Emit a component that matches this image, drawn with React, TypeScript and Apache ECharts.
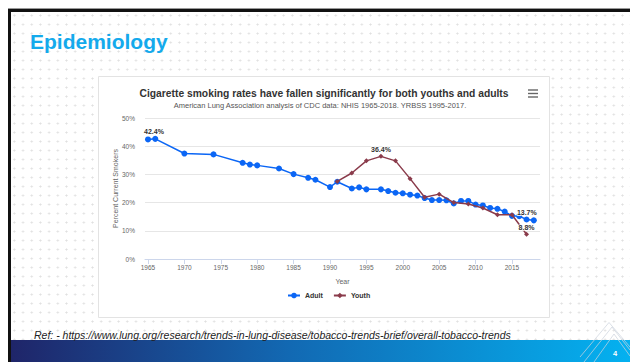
import React, { useEffect, useRef } from 'react';
import * as echarts from 'echarts';

const chartTitle = 'Cigarette smoking rates have fallen significantly for both youths and adults';
const chartSubtitle = 'American Lung Association analysis of CDC data: NHIS 1965-2018. YRBSS 1995-2017.';
const slideTitle = 'Epidemiology';
const refText = 'Ref: - https://www.lung.org/research/trends-in-lung-disease/tobacco-trends-brief/overall-tobacco-trends';
const pageNumber = '4';

const xTicks = [1965, 1970, 1975, 1980, 1985, 1990, 1995, 2000, 2005, 2010, 2015];

const adultYears = [1965, 1966, 1970, 1974, 1978, 1979, 1980, 1983, 1985, 1987, 1988, 1990, 1991, 1993, 1994, 1995, 1997, 1998, 1999, 2000, 2001, 2002, 2003, 2004, 2005, 2006, 2007, 2008, 2009, 2010, 2011, 2012, 2013, 2014, 2015, 2016, 2017, 2018];
const adultValues = [42.4, 42.6, 37.4, 37.1, 34.1, 33.5, 33.2, 32.1, 30.1, 28.8, 28.1, 25.5, 27.4, 25.0, 25.4, 24.7, 24.7, 24.1, 23.5, 23.3, 22.8, 22.5, 21.6, 20.9, 20.9, 20.8, 19.7, 20.6, 20.6, 19.3, 19.0, 18.1, 17.8, 16.8, 15.3, 15.2, 14.0, 13.7];

const youthYears = [1991, 1993, 1995, 1997, 1999, 2001, 2003, 2005, 2007, 2009, 2011, 2013, 2015, 2017];
const youthValues = [27.5, 30.5, 34.8, 36.4, 34.8, 28.5, 21.9, 23.0, 20.0, 19.5, 18.1, 15.7, 15.7, 8.8];

const adultLabelIdx: Record<number, number[]> = { 0: [6, 0], [adultYears.length - 1]: [-7, 0] };
const youthLabelIdx: Record<number, number[]> = { 3: [0, 0], [youthYears.length - 1]: [0, 0] };

const FONT = '"Liberation Sans", Arial, sans-serif';
const ADULT = '#0b66f5';
const YOUTH = '#8a3b4b';

function buildData(years: number[], vals: number[], labels: Record<number, number[]>) {
  return years.map((y, i) => {
    const item: any = { value: [y, vals[i]] };
    if (labels[i]) {
      item.label = {
        show: true,
        position: 'top',
        distance: 1,
        offset: labels[i],
        formatter: (p: any) => p.value[1] + '%',
        fontSize: 7,
        fontWeight: 'bold',
        color: '#333',
        fontFamily: FONT,
        textBorderColor: '#fff',
        textBorderWidth: 1.5,
      };
    }
    return item;
  });
}

export default function App() {
  const ref = useRef<HTMLDivElement>(null);
  useEffect(() => {
    const chart = echarts.init(ref.current!, null, { renderer: 'svg' });
    const option: any = {
      animation: false,
      backgroundColor: 'transparent',
      textStyle: { fontFamily: FONT },
      title: [
        {
          text: chartTitle,
          left: 324,
          top: 88,
          textAlign: 'center',
          padding: 0,
          textStyle: { fontSize: 10.3, fontWeight: 'bold', color: '#333', fontFamily: FONT },
        },
        {
          text: chartSubtitle,
          left: 320,
          top: 101.5,
          textAlign: 'center',
          padding: 0,
          textStyle: { fontSize: 7.5, fontWeight: 'normal', color: '#555', fontFamily: FONT },
        },
      ],
      legend: {
        data: ['Adult', 'Youth'],
        left: 287,
        top: 292,
        itemWidth: 12,
        itemHeight: 7,
        itemGap: 10,
        padding: 0,
        textStyle: { fontSize: 7, fontWeight: 'bold', color: '#333', fontFamily: FONT },
      },
      grid: { left: 145, right: 90, top: 118, bottom: 103, outerBoundsMode: 'none', containLabel: false },
      xAxis: {
        type: 'value',
        min: 1964.59,
        max: 2018.85,
        name: 'Year',
        nameLocation: 'middle',
        nameGap: 19,
        nameMoveOverlap: false,
        nameTextStyle: { fontSize: 7, color: '#666', fontFamily: FONT },
        axisLine: { show: true, lineStyle: { color: '#ccd6eb', width: 1 } },
        axisTick: { show: true, length: 5, lineStyle: { color: '#ccd6eb' }, customValues: xTicks },
        axisLabel: { fontSize: 6.5, color: '#666', margin: 5, customValues: xTicks, formatter: (v: number) => String(v), fontFamily: FONT },
        splitLine: { show: false },
      },
      yAxis: {
        type: 'value',
        min: 0,
        max: 50,
        interval: 10,
        name: 'Percent Current Smokers',
        nameLocation: 'middle',
        nameRotate: 90,
        nameGap: 26,
        nameMoveOverlap: false,
        nameTextStyle: { fontSize: 7, color: '#666', fontFamily: FONT },
        axisLine: { show: false },
        axisTick: { show: false },
        axisLabel: { fontSize: 6.5, color: '#666', margin: 10, formatter: '{value}%', fontFamily: FONT },
        splitLine: { show: true, lineStyle: { color: '#e6e6e6', width: 1 } },
      },
      series: [
        {
          name: 'Adult',
          type: 'line',
          data: buildData(adultYears, adultValues, adultLabelIdx),
          color: ADULT,
          symbol: 'circle',
          symbolSize: 6,
          lineStyle: { width: 1.5, color: ADULT },
          itemStyle: { color: ADULT },
          z: 3,
        },
        {
          name: 'Youth',
          type: 'line',
          data: buildData(youthYears, youthValues, youthLabelIdx),
          color: YOUTH,
          symbol: 'diamond',
          symbolSize: 5,
          lineStyle: { width: 1.5, color: YOUTH },
          itemStyle: { color: YOUTH },
          z: 4,
        },
      ],
      graphic: [
        { type: 'rect', z: -10, shape: { x: 8, y: 9, width: 622, height: 3 }, style: { fill: '#111' } },
        { type: 'rect', z: -10, shape: { x: 8, y: 8, width: 622, height: 1 }, style: { fill: '#999' } },
        { type: 'rect', z: -10, shape: { x: 8, y: 9, width: 3, height: 353 }, style: { fill: '#111' } },
        {
          type: 'text', z: -5, x: 30, y: 41,
          style: { text: slideTitle, fontSize: 21, fontWeight: 'bold', fill: '#14aaec', fontFamily: FONT, textVerticalAlign: 'middle' },
        },
        { type: 'rect', z: -8, shape: { x: 98.5, y: 76.5, width: 451, height: 241 }, style: { fill: '#fff', stroke: '#e3e3e3', lineWidth: 1 } },
        { type: 'line', z: 5, shape: { x1: 528, y1: 90, x2: 538, y2: 90 }, style: { stroke: '#666', lineWidth: 1.4 } },
        { type: 'line', z: 5, shape: { x1: 528, y1: 93.5, x2: 538, y2: 93.5 }, style: { stroke: '#666', lineWidth: 1.4 } },
        { type: 'line', z: 5, shape: { x1: 528, y1: 97, x2: 538, y2: 97 }, style: { stroke: '#666', lineWidth: 1.4 } },
        {
          type: 'text', z: -5, x: 34, y: 335,
          style: { text: refText, fontSize: 10.5, fontStyle: 'italic', fill: '#222', fontFamily: FONT, textVerticalAlign: 'middle' },
        },
        {
          type: 'rect', z: -6, shape: { x: 11, y: 340, width: 619, height: 22 },
          style: {
            fill: new echarts.graphic.LinearGradient(0, 0, 1, 0, [
              { offset: 0, color: '#1f2569' },
              { offset: 0.45, color: '#1269b3' },
              { offset: 1, color: '#04b1f0' },
            ]),
          },
        },
        { type: 'polyline', z: -4, shape: { points: [[580, 357], [609, 322.5], [630, 347]] }, style: { stroke: 'rgba(205,212,222,0.9)', lineWidth: 0.8, fill: 'none' } },
        { type: 'polyline', z: -4, shape: { points: [[584, 362], [612, 327], [630, 350]] }, style: { stroke: 'rgba(205,212,222,0.9)', lineWidth: 0.8, fill: 'none' } },
        { type: 'polyline', z: -4, shape: { points: [[594, 362], [614, 334], [630, 356]] }, style: { stroke: 'rgba(205,212,222,0.9)', lineWidth: 0.8, fill: 'none' } },
        {
          type: 'text', z: -3, x: 615, y: 353,
          style: { text: pageNumber, fontSize: 7.5, fontWeight: 'bold', fill: '#fff', fontFamily: FONT, textAlign: 'center', textVerticalAlign: 'middle' },
        },
      ],
    };
    chart.setOption(option);
    return () => chart.dispose();
  }, []);
  return (
    <div style={{ position: 'fixed', left: 0, top: 0, width: 630, height: 362, background: '#fff', overflow: 'hidden' }}>
      <div
        style={{
          position: 'absolute', left: 11, top: 12, right: 0, bottom: 0,
          backgroundImage: 'radial-gradient(circle, #e0e0e0 0.8px, rgba(255,255,255,0) 1.3px)',
          backgroundSize: '8.7px 9px',
          backgroundPosition: '-1px -1px',
        }}
      />
      <div ref={ref} style={{ position: 'absolute', left: 0, top: 0, width: 630, height: 362 }} />
    </div>
  );
}
